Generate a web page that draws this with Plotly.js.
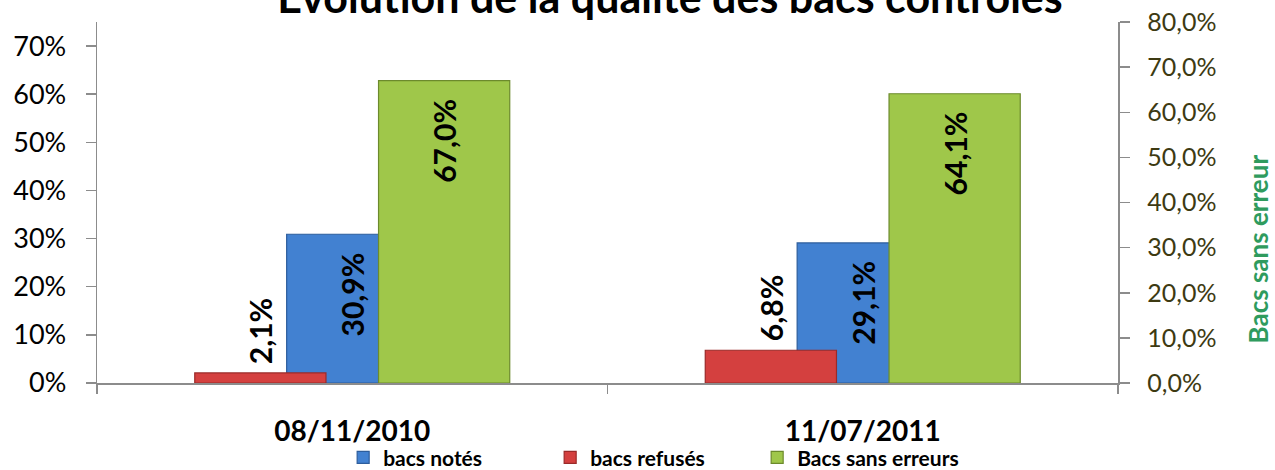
<!DOCTYPE html>
<html>
<head>
<meta charset="utf-8">
<script src="https://cdn.plot.ly/plotly-3.0.1.min.js"></script>
<style>html,body{margin:0;padding:0;background:#fff;}#chart{width:1275px;height:470px;}</style>
</head>
<body>
<div id="chart"></div>
<script>
// ---- data ----
const categories = ['08/11/2010', '11/07/2011'];
const bacsNotes = [0.309, 0.291];
const bacsRefuses = [0.021, 0.068];
const bacsSansErreurs = [0.670, 0.641];
const seriesNames = ['bacs notés', 'bacs refusés', 'Bacs sans erreurs'];
const chartTitle = 'Évolution de la qualité des bacs contrôlés';
const rightAxisTitle = 'Bacs sans erreur';

// ---- styling ----
const FONT = 'Lato, "Open Sans", sans-serif';
const BW = 0.257;     // bar width (category units)
const STEP = 0.18;    // center-to-center shift between series
const colBlue = '#4281d1', colRed = '#d4403f', colGreen = '#9fc74a';
const lineBlue = '#2d5d9c', lineRed = '#9a2a29', lineGreen = '#6c8a2c';
const axisCol = '#8c8c8c';
const NB = '\u00a0';

function fmt(v) { return (v * 100).toFixed(1).replace('.', ',') + '%'; }

const traces = [
  { type: 'bar', name: seriesNames[0], x: categories, y: bacsNotes, yaxis: 'y',
    width: BW, offset: -BW / 2,
    marker: { color: colBlue, line: { color: lineBlue, width: 1.2 } }, hoverinfo: 'skip' },
  { type: 'bar', name: seriesNames[1], x: categories, y: bacsRefuses, yaxis: 'y',
    width: BW, offset: -STEP - BW / 2,
    marker: { color: colRed, line: { color: lineRed, width: 1.2 } }, hoverinfo: 'skip' },
  { type: 'bar', name: seriesNames[2], x: categories, y: bacsSansErreurs, yaxis: 'y2',
    width: BW, offset: STEP - BW / 2,
    marker: { color: colGreen, line: { color: lineGreen, width: 1.2 } }, hoverinfo: 'skip' }
];

const labelFont = { family: FONT, size: 30, color: '#000', weight: 'bold' };
const annotations = [];
categories.forEach((c, i) => {
  annotations.push({ xref: 'x', yref: 'y', x: i - STEP, y: bacsRefuses[i], text: '<b>' + fmt(bacsRefuses[i]) + '</b>',
    textangle: -90, showarrow: false, xanchor: 'center', yanchor: 'bottom', yshift: 7, font: labelFont });
  annotations.push({ xref: 'x', yref: 'y', x: i, y: bacsNotes[i], text: '<b>' + fmt(bacsNotes[i]) + '</b>',
    textangle: -90, showarrow: false, xanchor: 'center', yanchor: 'top', yshift: -16, font: labelFont });
  annotations.push({ xref: 'x', yref: 'y2', x: i + STEP, y: bacsSansErreurs[i], text: '<b>' + fmt(bacsSansErreurs[i]) + '</b>',
    textangle: -90, showarrow: false, xanchor: 'center', yanchor: 'top', yshift: -16, font: labelFont });
});
annotations.push({ xref: 'paper', yref: 'paper', x: 1.1375, y: 0.371, text: '<b>' + rightAxisTitle + '</b>',
  textangle: -90, showarrow: false, xanchor: 'center', yanchor: 'middle',
  font: { family: FONT, size: 26, color: '#2f9b5e' } });

const layout = {
  width: 1275, height: 470,
  margin: { l: 97, r: 157, t: 22, b: 87, autoexpand: false },
  paper_bgcolor: '#fff', plot_bgcolor: '#fff',
  separators: ', ',
  barmode: 'overlay',
  showlegend: true,
  title: { text: '<b>' + chartTitle + '</b>', font: { family: FONT, size: 43, color: '#000' },
    xref: 'container', yref: 'container', x: 0.5255, xanchor: 'center', y: 1 - 13 / 470, yanchor: 'bottom' },
  xaxis: {
    type: 'category', range: [-0.5, 1.5], tickson: 'boundaries', automargin: false,
    showline: true, linecolor: axisCol, linewidth: 1.5,
    ticks: 'outside', ticklen: 9, tickcolor: axisCol, tickwidth: 1.5,
    showgrid: false, zeroline: false, ticklabelstandoff: 23,
    tickfont: { family: FONT, size: 28, color: '#000', weight: 'bold' }
  },
  yaxis: {
    range: [0, 0.75], dtick: 0.1, tick0: 0, tickformat: '.0%', ticksuffix: NB + NB, automargin: false,
    showline: true, linecolor: axisCol, linewidth: 1.5,
    ticks: 'outside', ticklen: 10, tickcolor: axisCol, tickwidth: 1.5,
    showgrid: false, zeroline: false,
    tickfont: { family: FONT, size: 27, color: '#000' }
  },
  yaxis2: {
    overlaying: 'y', side: 'right', anchor: 'x', automargin: false,
    range: [0, 0.8], dtick: 0.1, tick0: 0, tickformat: '.1%', tickprefix: NB + NB,
    showline: true, linecolor: axisCol, linewidth: 1.5,
    ticks: 'outside', ticklen: 10, tickcolor: axisCol, tickwidth: 1.5,
    showgrid: false, zeroline: false,
    tickfont: { family: FONT, size: 25, color: '#3d3a12' }
  },
  legend: {
    orientation: 'h', xref: 'paper', yref: 'paper', x: 0.2411, xanchor: 'left', y: -0.15, yanchor: 'top',
    entrywidth: 162, entrywidthmode: 'pixels',
    font: { family: FONT, size: 21, color: '#000', weight: 'bold' }, bgcolor: 'rgba(0,0,0,0)', itemwidth: 30
  },
  annotations: annotations
};

Plotly.newPlot('chart', traces, layout, { displayModeBar: false, staticPlot: true });
</script>
</body>
</html>
